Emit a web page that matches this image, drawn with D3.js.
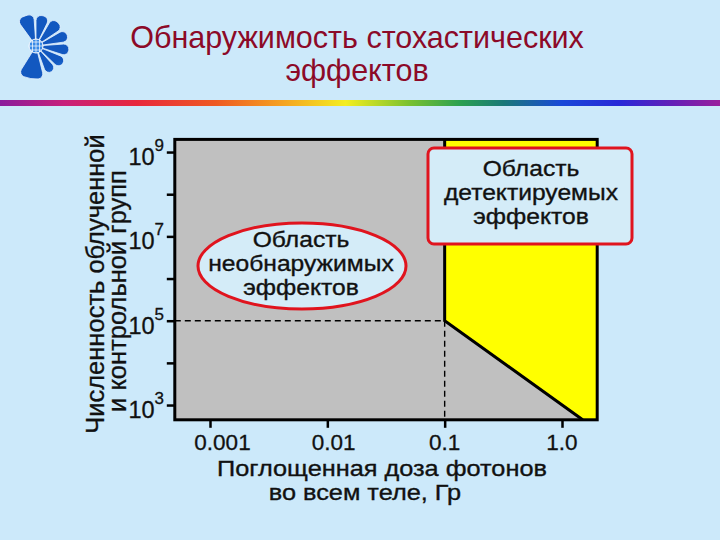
<!DOCTYPE html>
<html><head><meta charset="utf-8">
<script src="https://cdn.jsdelivr.net/npm/d3@7"></script>
<style>
html,body{margin:0;padding:0;background:#cce9fa;}
svg{display:block;font-family:"Liberation Sans",Arial,sans-serif;}
</style></head>
<body>
<svg id="c" width="720" height="540"></svg>
<script>
// ---- data ----
const titleLines = ["Обнаружимость стохастических", "эффектов"];
const doseTicks = [0.001, 0.01, 0.1, 1.0];
const doseTickLabels = ["0.001", "0.01", "0.1", "1.0"];
const countTicks = [1e3, 1e4, 1e5, 1e6, 1e7, 1e8, 1e9];
const countLabelExps = [3, 5, 7, 9];
const doseDomain = [Math.pow(10, -3.3), Math.pow(10, 0.3)];
const countDomain = [Math.pow(10, 2.65), Math.pow(10, 9.3)];
const thresholdDose = 0.1;
const thresholdCount = 1e5;
const boundaryDose = [0.1, 1.5];       // diagonal limit line
const boundaryCount = [1e5, 447];
const yLabelLines = ["Численность облученной", "и контрольной групп"];
const xLabelLines = ["Поглощенная доза фотонов", "во всем теле, Гр"];
const undetectLines = ["Область", "необнаружимых", "эффектов"];
const detectLines = ["Область", "детектируемых", "эффектов"];

const svg = d3.select("#c");

// multi-line text: one text element per line, optionally widened
function multiline(g, lines, xs, y0, dy, size, color, stretch) {
  const sel = g.append("g").selectAll("text").data(lines).join("text")
    .attr("font-size", size).attr("fill", color).attr("text-anchor", "middle")
    .attr("x", (d,i) => Array.isArray(xs) ? xs[i] : xs)
    .attr("y", (d,i) => y0 + i*dy).text(d => d);
  if (stretch && stretch !== 1) {
    sel.each(function(){
      const w = this.getComputedTextLength();
      d3.select(this).attr("textLength", w*stretch).attr("lengthAdjust","spacingAndGlyphs");
    });
  }
  return sel;
}

// ---- background ----
svg.append("rect").attr("width",720).attr("height",540).attr("fill","#cce9fa");

// rainbow bar
const defs = svg.append("defs");
const rg = defs.append("linearGradient").attr("id","rainbow").attr("x1","0").attr("x2","1").attr("y1","0").attr("y2","0");
[[0,"#8a1c9c"],[0.09,"#c8207a"],[0.19,"#e8283c"],[0.3,"#ee5a22"],[0.39,"#f5a020"],[0.48,"#f4ee20"],[0.57,"#78c030"],[0.64,"#2aa050"],[0.7,"#1a7878"],[0.78,"#1848d8"],[0.86,"#2828d8"],[0.93,"#6020b8"],[1,"#9a209c"]]
  .forEach(s => rg.append("stop").attr("offset", s[0]).attr("stop-color", s[1]));
svg.append("rect").attr("x",0).attr("y",100).attr("width",720).attr("height",6).attr("fill","url(#rainbow)");

// logo (fan of petals)
const lg = defs.append("radialGradient").attr("id","petal").attr("cx","0").attr("cy","0").attr("r","1").attr("gradientUnits","userSpaceOnUse")
  .attr("gradientTransform","translate(36,46) scale(34)");
lg.append("stop").attr("offset",0).attr("stop-color","#5aa6f0");
lg.append("stop").attr("offset",0.6).attr("stop-color","#2a7ee0");
lg.append("stop").attr("offset",1).attr("stop-color","#1258c0");
const logo = svg.append("g").attr("transform","translate(36,46)");
const petalArc = d3.arc().innerRadius(3).cornerRadius(5);
const petals = [[-36,-4,32],[0,26,31],[30,56,32],[60,82,33],[86,108,33],[112,134,32],[138,160,30],[166,212,33]];
petals.forEach(p => {
  logo.append("path").attr("d", petalArc({startAngle:p[0]*Math.PI/180, endAngle:p[1]*Math.PI/180, outerRadius:p[2]}))
    .attr("fill","url(#petal)").attr("stroke","#e8f4ff").attr("stroke-width",0.8);
});
logo.append("circle").attr("r",7).attr("fill","#3a8ae6").attr("stroke","#ffffff").attr("stroke-width",1);
logo.append("path").attr("d","M-7,0H7M0,-7V7M-5,-4H5M-5,4H5M-3.5,-6V6M3.5,-6V6").attr("stroke","#ffffff").attr("stroke-width",0.7);

// title
multiline(svg, titleLines, 357, 48, 33, 30.5, "#8c0a28");

// ---- scales ----
const x = d3.scaleLog().domain(doseDomain).range([174.8, 597.2]);
const y = d3.scaleLog().domain(countDomain).range([419.8, 139.4]);
const [x0, x1] = x.range();
const [y0, y1] = y.range();

// plot background (undetectable, gray)
svg.append("rect").attr("x",x0).attr("y",y1).attr("width",x1-x0).attr("height",y0-y1).attr("fill","#c0c0c0");

// detectable (yellow)
const poly = [
  [thresholdDose, countDomain[1]],
  [doseDomain[1], countDomain[1]],
  [doseDomain[1], countDomain[0]],
  [boundaryDose[1], boundaryCount[1]],
  [boundaryDose[0], boundaryCount[0]]
];
svg.append("path").attr("d", d3.line().x(d=>x(d[0])).y(d=>y(d[1]))(poly)+"Z").attr("fill","#ffff00");

// dashed guide lines
svg.append("line").attr("x1",x0).attr("x2",x(thresholdDose)).attr("y1",y(thresholdCount)).attr("y2",y(thresholdCount))
  .attr("stroke","#000").attr("stroke-width",1.4).attr("stroke-dasharray","6,4");
svg.append("line").attr("x1",x(thresholdDose)).attr("x2",x(thresholdDose)).attr("y1",y(thresholdCount)).attr("y2",y0)
  .attr("stroke","#000").attr("stroke-width",1.4).attr("stroke-dasharray","6,4");

// boundary solid line
const bound = [[thresholdDose, countDomain[1]], [boundaryDose[0], boundaryCount[0]], [boundaryDose[1], boundaryCount[1]]];
svg.append("path").attr("d", d3.line().x(d=>x(d[0])).y(d=>y(d[1]))(bound))
  .attr("fill","none").attr("stroke","#000").attr("stroke-width",3);

// frame
svg.append("rect").attr("x",x0).attr("y",y1).attr("width",x1-x0).attr("height",y0-y1)
  .attr("fill","none").attr("stroke","#000").attr("stroke-width",3);

// y axis ticks
const yAxis = svg.append("g").attr("transform",`translate(${x0},0)`)
  .call(d3.axisLeft(y).tickValues(countTicks).tickSize(8).tickFormat(""));
yAxis.select(".domain").remove();
yAxis.selectAll("line").attr("stroke","#000").attr("stroke-width",2.5);
const yl = svg.append("g").selectAll("text").data(countLabelExps).join("text")
  .attr("x",164).attr("y",d=>y(Math.pow(10,d))+13).attr("text-anchor","end")
  .attr("font-size",23.5).attr("fill","#111").attr("stroke","#111").attr("stroke-width",0.3);
yl.append("tspan").text("10");
yl.append("tspan").attr("font-size",17).attr("dy",-14).text(d=>d);

// x axis ticks
const xAxis = svg.append("g").attr("transform",`translate(0,${y0})`)
  .call(d3.axisBottom(x).tickValues(doseTicks).tickSize(8).tickFormat(""));
xAxis.select(".domain").remove();
xAxis.selectAll("line").attr("stroke","#000").attr("stroke-width",2.5);
// labels aligned on the decimal point
const xl = svg.append("g").selectAll("text").data(doseTicks).join("text")
  .attr("y",450).attr("font-size",22.5).attr("fill","#111").attr("stroke","#111").attr("stroke-width",0.3)
  .text((d,i)=>doseTickLabels[i]);
xl.each(function(d,i){
  const t = d3.select(this);
  const lab = doseTickLabels[i];
  const dot = lab.indexOf(".");
  t.text(lab.slice(0,dot));
  const pre = this.getComputedTextLength();
  t.text(".");
  const dw = this.getComputedTextLength();
  t.text(lab);
  t.attr("x", x(d) - pre - dw/2);
});

// axis titles
multiline(svg, xLabelLines, [382, 365], 476, 24, 22.8, "#111", 1.11).attr("stroke","#111").attr("stroke-width",0.35);
svg.append("g").selectAll("text").data(yLabelLines).join("text")
  .attr("font-size",25.5).attr("fill","#111").attr("stroke","#111").attr("stroke-width",0.3)
  .attr("text-anchor","middle")
  .attr("transform",(d,i)=>`translate(${104+i*22},${i?291:284}) rotate(-90)`).text(d=>d);

// annotation: undetectable (ellipse)
svg.append("ellipse").attr("cx",302).attr("cy",266).attr("rx",104).attr("ry",43)
  .attr("fill","#d4ecf8").attr("stroke","#e0141e").attr("stroke-width",3);
multiline(svg, undetectLines, 301, 247, 24, 22.8, "#111", 1.08).attr("stroke","#111").attr("stroke-width",0.35);

// annotation: detectable (rounded box)
svg.append("rect").attr("x",428).attr("y",148).attr("width",204).attr("height",96).attr("rx",6)
  .attr("fill","#d4ecf8").attr("stroke","#e0141e").attr("stroke-width",3);
multiline(svg, detectLines, 531, 176, 24, 22.8, "#111", 1.08).attr("stroke","#111").attr("stroke-width",0.35);
</script>
</body></html>
